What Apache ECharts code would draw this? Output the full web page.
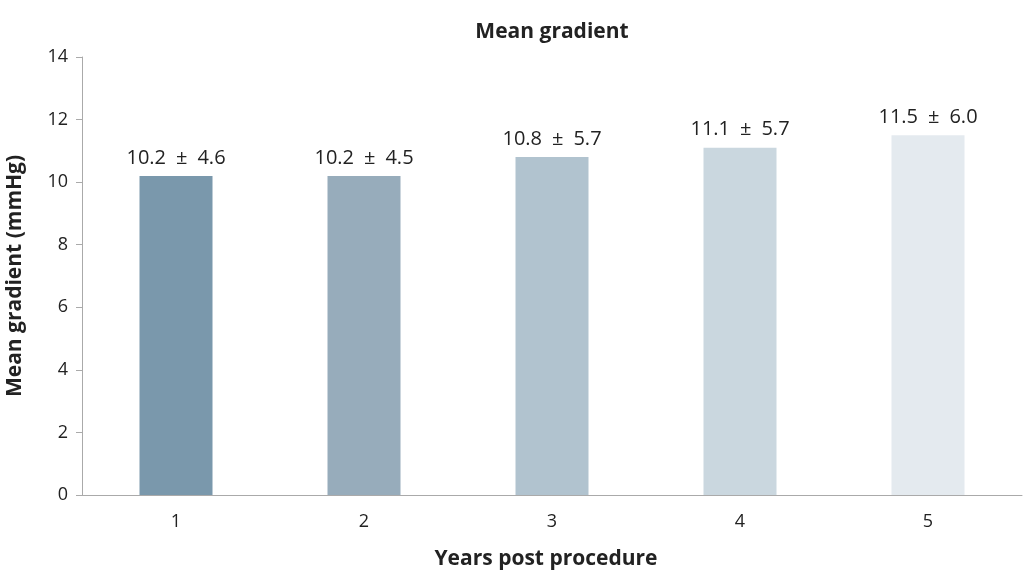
<!DOCTYPE html>
<html><head><meta charset="utf-8">
<script src="https://cdn.jsdelivr.net/npm/echarts@6/dist/echarts.min.js"></script>
<style>html,body{margin:0;padding:0;background:#fff}#c{width:1024px;height:575px}</style>
</head><body><div id="c"></div>
<script>
const categories = ['1','2','3','4','5'];
const means = [10.2, 10.2, 10.8, 11.1, 11.5];
const sds = [4.6, 4.5, 5.7, 5.7, 6.0];
const barColors = ['#7A98AC','#97ACBB','#B1C3CF','#CAD7DF','#E4EAEF'];
const yTicks = [0, 2, 4, 6, 8, 10, 12, 14];

const chart = echarts.init(document.getElementById('c'));
const font = '"Open Sans", sans-serif';
chart.setOption({
  animation: false,
  title: { text: 'Mean gradient', left: 547, top: 17, textAlign: 'center',
    textStyle: { fontFamily: font, fontSize: 21, fontWeight: 'bold', color: '#222' } },
  grid: { left: 82, right: 2, top: 57, bottom: 80, outerBoundsMode: 'none', containLabel: false },
  xAxis: {
    type: 'category', data: categories,
    name: 'Years post procedure', nameLocation: 'middle', nameGap: 54,
    nameTextStyle: { fontFamily: font, fontSize: 21, fontWeight: 'bold', color: '#222', padding: [0, 12, 0, 0] },
    axisLine: { lineStyle: { color: '#aaa' } },
    axisTick: { alignWithLabel: true, length: 6, lineStyle: { color: '#aaa' } },
    axisLabel: { fontFamily: font, fontSize: 18, color: '#222', margin: 18 }
  },
  yAxis: {
    type: 'value', min: 0, max: 14, interval: 2,
    name: 'Mean gradient (mmHg)', nameLocation: 'middle', nameGap: 56,
    nameTextStyle: { fontFamily: font, fontSize: 21, fontWeight: 'bold', color: '#222' },
    axisLine: { show: true, lineStyle: { color: '#aaa' } },
    axisTick: { show: true, length: 6, lineStyle: { color: '#aaa' } },
    axisLabel: { fontFamily: font, fontSize: 18, color: '#222', margin: 14,
      formatter: v => yTicks.includes(v) ? String(v) : '' },
    splitLine: { show: false }
  },
  series: [{
    type: 'bar', barWidth: 73,
    data: means.map((v, i) => ({ value: v, itemStyle: { color: barColors[i] } })),
    label: { show: true, position: 'top', distance: 8, fontFamily: font, fontSize: 20, color: '#222',
      formatter: p => means[p.dataIndex].toFixed(1) + '\u2002±\u2002' + sds[p.dataIndex].toFixed(1) }
  }]
});
</script></body></html>
